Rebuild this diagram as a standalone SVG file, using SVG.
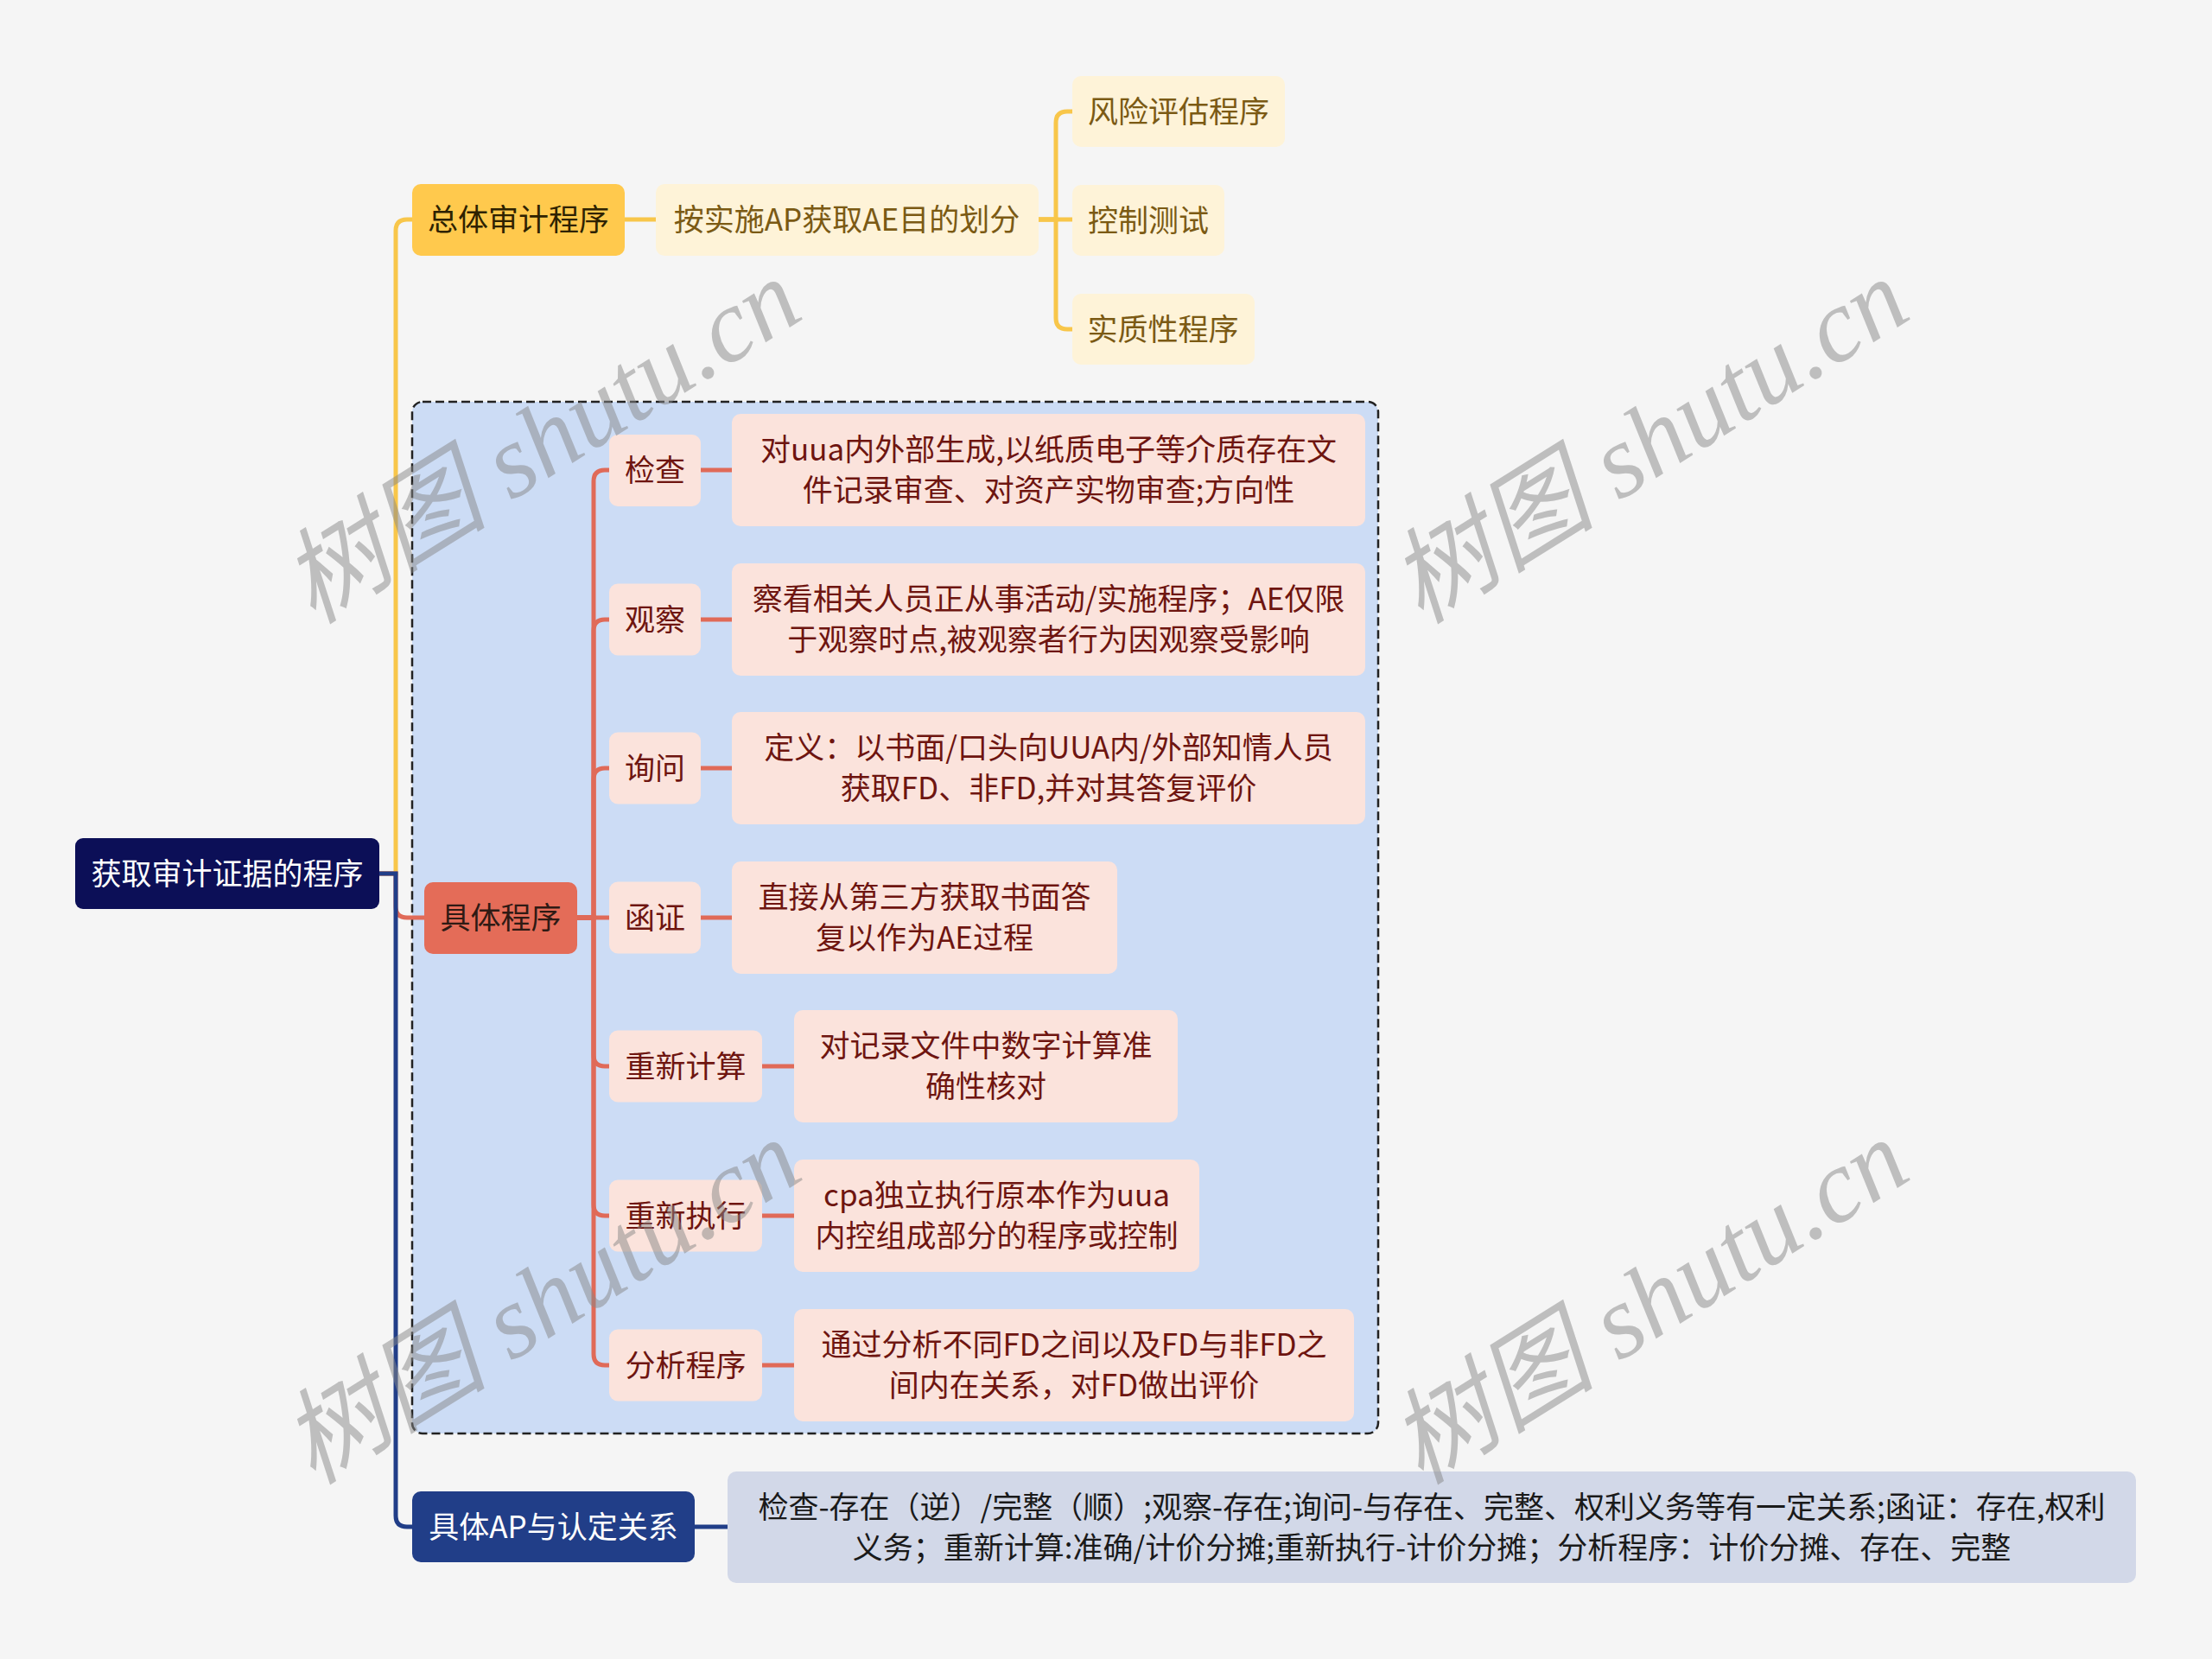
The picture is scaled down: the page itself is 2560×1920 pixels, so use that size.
<svg xmlns="http://www.w3.org/2000/svg" width="2560" height="1920" viewBox="0 0 2560 1920">
<style>
text{font-family:"Noto Sans CJK SC","Noto Sans",sans-serif;font-size:35px;text-anchor:middle}
.ly{fill:none;stroke:#F8C64A;stroke-width:5}
.ls{fill:none;stroke:#E06A58;stroke-width:5}
.ln{fill:none;stroke:#213E88;stroke-width:5}
.root{fill:#0C0F57}
.ym{fill:#FFC94D}
.yl{fill:#FEF3D8}
.sm{fill:#E46C58}
.pk{fill:#FBE3DC}
.nv{fill:#213E88}
.gd{fill:#D2D8E8}
.tw{fill:#ffffff}
.ty{fill:#7B5A14}
.td{fill:#2E2200}
.tr{fill:#6E1510}
.ts{fill:#2F1A14}
.tk{fill:#1A1A1A}
.wm{font-family:"Liberation Serif","Noto Sans CJK SC",serif;font-style:italic;font-size:120px;fill:#888888;opacity:0.5}
</style>
<rect width="2560" height="1920" fill="#F5F5F5"/>
<rect id="group-box" x="477" y="465" width="1118" height="1194" rx="12" fill="#CCDCF5" stroke="#222" stroke-width="2.5" stroke-dasharray="10 5"/>
<g id="connectors">
<path class="ly" d="M439 1011 H458 V267 Q458 254 471 254 H477"/>
<path class="ls" d="M439 1011 H458 V1049 Q458 1062 471 1062 H491"/>
<path class="ln" d="M439 1011 H458 V1754 Q458 1767 471 1767 H477"/>
<path class="ly" d="M723 254 H759"/>
<path class="ly" d="M1202 254 H1222 V142 Q1222 129 1235 129 H1241"/>
<path class="ly" d="M1202 254 H1241"/>
<path class="ly" d="M1202 254 H1222 V368 Q1222 381 1235 381 H1241"/>
<path class="ls" d="M668 1062 H687 V557 Q687 544 700 544 H705"/>
<path class="ls" d="M668 1062 H687 V730 Q687 717 700 717 H705"/>
<path class="ls" d="M668 1062 H687 V902 Q687 889 700 889 H705"/>
<path class="ls" d="M668 1062 H705"/>
<path class="ls" d="M668 1062 H687 V1221 Q687 1234 700 1234 H705"/>
<path class="ls" d="M668 1062 H687 V1394 Q687 1407 700 1407 H705"/>
<path class="ls" d="M668 1062 H687 V1567 Q687 1580 700 1580 H705"/>
<path class="ls" d="M811 544 H847"/>
<path class="ls" d="M811 717 H847"/>
<path class="ls" d="M811 889 H847"/>
<path class="ls" d="M811 1062 H847"/>
<path class="ls" d="M882 1234 H919"/>
<path class="ls" d="M882 1407 H919"/>
<path class="ls" d="M882 1580 H919"/>
<path class="ln" d="M804 1767 H842"/>
</g>
<g id="root"><rect class="root" x="87" y="970" width="352" height="82" rx="9"/><text class="tw" x="263" y="1024">获取审计证据的程序</text></g>
<g id="n-zongti"><rect class="ym" x="477" y="213" width="246" height="83" rx="10"/><text class="td" x="600" y="267">总体审计程序</text></g>
<g id="n-anshishi"><rect class="yl" x="759" y="213" width="443" height="83" rx="10"/><text class="ty" x="980" y="267">按实施AP获取AE目的划分</text></g>
<g id="n-fengxian"><rect class="yl" x="1241" y="88" width="246" height="82" rx="10"/><text class="ty" x="1364" y="142">风险评估程序</text></g>
<g id="n-kongzhi"><rect class="yl" x="1241" y="214" width="176" height="82" rx="10"/><text class="ty" x="1329" y="268">控制测试</text></g>
<g id="n-shizhi"><rect class="yl" x="1241" y="340" width="211" height="82" rx="10"/><text class="ty" x="1346" y="394">实质性程序</text></g>
<g id="n-juti"><rect class="sm" x="491" y="1021" width="177" height="83" rx="10"/><text class="ts" x="579.5" y="1075">具体程序</text></g>
<g id="n-jiancha"><rect class="pk" x="705" y="503" width="106" height="83" rx="10"/><text class="tr" x="758" y="557">检查</text></g>
<g id="d-jiancha"><rect class="pk" x="847" y="479" width="733" height="130" rx="10"/><text class="tr" x="1213.5" y="533">对uua内外部生成,以纸质电子等介质存在文</text><text class="tr" x="1213.5" y="580">件记录审查、对资产实物审查;方向性</text></g>
<g id="n-guancha"><rect class="pk" x="705" y="675.5" width="106" height="83" rx="10"/><text class="tr" x="758" y="730">观察</text></g>
<g id="d-guancha"><rect class="pk" x="847" y="652" width="733" height="130" rx="10"/><text class="tr" x="1213.5" y="706">察看相关人员正从事活动/实施程序；AE仅限</text><text class="tr" x="1213.5" y="753">于观察时点,被观察者行为因观察受影响</text></g>
<g id="n-xunwen"><rect class="pk" x="705" y="847.5" width="106" height="83" rx="10"/><text class="tr" x="758" y="902">询问</text></g>
<g id="d-xunwen"><rect class="pk" x="847" y="824" width="733" height="130" rx="10"/><text class="tr" x="1213.5" y="878">定义：以书面/口头向UUA内/外部知情人员</text><text class="tr" x="1213.5" y="925">获取FD、非FD,并对其答复评价</text></g>
<g id="n-hanzheng"><rect class="pk" x="705" y="1020.5" width="106" height="83" rx="10"/><text class="tr" x="758" y="1075">函证</text></g>
<g id="d-hanzheng"><rect class="pk" x="847" y="997" width="446" height="130" rx="10"/><text class="tr" x="1070" y="1051">直接从第三方获取书面答</text><text class="tr" x="1070" y="1098">复以作为AE过程</text></g>
<g id="n-chongxinjisuan"><rect class="pk" x="705" y="1192.5" width="177" height="83" rx="10"/><text class="tr" x="793.5" y="1247">重新计算</text></g>
<g id="d-chongxinjisuan"><rect class="pk" x="919" y="1169" width="444" height="130" rx="10"/><text class="tr" x="1141" y="1223">对记录文件中数字计算准</text><text class="tr" x="1141" y="1270">确性核对</text></g>
<g id="n-chongxinzhixing"><rect class="pk" x="705" y="1365.5" width="177" height="83" rx="10"/><text class="tr" x="793.5" y="1420">重新执行</text></g>
<g id="d-chongxinzhixing"><rect class="pk" x="919" y="1342" width="469" height="130" rx="10"/><text class="tr" x="1153.5" y="1396">cpa独立执行原本作为uua</text><text class="tr" x="1153.5" y="1443">内控组成部分的程序或控制</text></g>
<g id="n-fenxi"><rect class="pk" x="705" y="1538.5" width="177" height="83" rx="10"/><text class="tr" x="793.5" y="1593">分析程序</text></g>
<g id="d-fenxi"><rect class="pk" x="919" y="1515" width="648" height="130" rx="10"/><text class="tr" x="1243" y="1569">通过分析不同FD之间以及FD与非FD之</text><text class="tr" x="1243" y="1616">间内在关系，对FD做出评价</text></g>
<g id="n-ap"><rect class="nv" x="477" y="1726" width="327" height="82" rx="10"/><text class="tw" x="640.5" y="1780">具体AP与认定关系</text></g>
<g id="d-ap"><rect class="gd" x="842" y="1703" width="1630" height="129" rx="10"/><text class="tk" x="1657" y="1757">检查-存在（逆）/完整（顺）;观察-存在;询问-与存在、完整、权利义务等有一定关系;函证：存在,权利</text><text class="tk" x="1657" y="1804">义务；重新计算:准确/计价分摊;重新执行-计价分摊；分析程序：计价分摊、存在、完整</text></g>
<g id="watermarks">
<text class="wm" transform="translate(648 545) rotate(-32)">树图 shutu.cn</text>
<text class="wm" transform="translate(1930 545) rotate(-32)">树图 shutu.cn</text>
<text class="wm" transform="translate(648 1541) rotate(-32)">树图 shutu.cn</text>
<text class="wm" transform="translate(1930 1541) rotate(-32)">树图 shutu.cn</text>
</g>
</svg>
